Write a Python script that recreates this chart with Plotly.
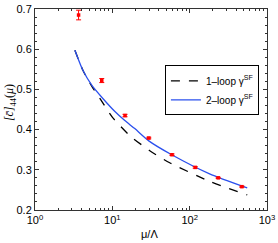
import plotly.graph_objects as go

# data points (lattice)
pts_x = [3.66, 7.3, 14.6, 29.6, 59.1, 118, 234, 473]
pts_y = [0.685, 0.522, 0.435, 0.379, 0.3375, 0.306, 0.28, 0.258]
pts_err = [0.012, 0.005, 0.003, 0.002, 0.002, 0.002, 0.0015, 0.0015]

# 1-loop curve
one_x = [3.28, 4.16, 5.44, 6.9, 10.1, 16.8, 30.5, 55.2, 181, 555]
one_y = [0.5975, 0.5475, 0.5075, 0.4775, 0.43, 0.385, 0.3475, 0.3175, 0.2713, 0.2375]

# 2-loop curve
two_x = [3.28, 4.16, 5.44, 7.54, 10.8, 14.5, 19.5, 29.6, 58.6, 181, 555]
two_y = [0.5975, 0.5475, 0.51, 0.4775, 0.445, 0.4225, 0.4025, 0.372, 0.3375, 0.29, 0.255]

x_tickvals = [1, 10, 100, 1000]
x_ticktext = ["10<sup>0</sup>", "10<sup>1</sup>", "10<sup>2</sup>", "10<sup>3</sup>"]
y_tickvals = [0.2, 0.3, 0.4, 0.5, 0.6, 0.7]
y_ticktext = ["0.2", "0.3", "0.4", "0.5", "0.6", "0.7"]

FONT = "Liberation Sans, Arial, sans-serif"

fig = go.Figure()
fig.add_trace(go.Scatter(
    x=one_x, y=one_y, mode="lines",
    line=dict(color="black", width=1.3, dash="dash", shape="spline", smoothing=0.6),
    name="1–loop γ<sup>SF</sup>"))
fig.add_trace(go.Scatter(
    x=two_x, y=two_y, mode="lines",
    line=dict(color="#2b50ee", width=1.3, shape="spline", smoothing=0.6),
    name="2–loop γ<sup>SF</sup>"))
fig.add_trace(go.Scatter(
    x=pts_x, y=pts_y, mode="markers",
    marker=dict(color="red", size=3.5, symbol="square"),
    error_y=dict(type="data", array=pts_err, color="red", thickness=1, width=2.5),
    showlegend=False))

axis_common = dict(showline=True, linecolor="#333333", linewidth=1, mirror="ticks",
                   ticks="inside", ticklen=4, tickcolor="#333333", showgrid=False, zeroline=False,
                   automargin=False,
                   tickfont=dict(family=FONT, size=11, color="black"))

fig.update_xaxes(type="log", range=[0, 3], tickvals=x_tickvals, ticktext=x_ticktext,
                 minor=dict(ticks="inside", ticklen=2, tickcolor="#333333", dtick="D1"),
                 **axis_common)
fig.update_yaxes(range=[0.2, 0.7], tickvals=y_tickvals, ticktext=y_ticktext,
                 minor=dict(ticks="inside", ticklen=2, tickcolor="#333333", dtick=0.02),
                 **axis_common)

fig.add_annotation(x=-0.105, y=0.535, xref="paper", yref="paper", textangle=-90,
                   xanchor="center", yanchor="middle",
                   text="<i>[c̄]</i><sub>44</sub>(<i>μ</i>)", showarrow=False,
                   font=dict(family="Liberation Serif, serif", size=12, color="black"))
fig.add_annotation(x=0.495, y=-0.12, xref="paper", yref="paper",
                   xanchor="center", yanchor="middle",
                   text="μ/Λ", showarrow=False,
                   font=dict(family=FONT, size=11, color="black"))

fig.update_layout(
    width=278, height=243,
    margin=dict(l=35, r=11, t=9, b=33, autoexpand=False),
    plot_bgcolor="white", paper_bgcolor="white",
    legend=dict(x=0.56, y=0.72, xanchor="left", yanchor="top",
                bordercolor="black", borderwidth=1, bgcolor="white",
                font=dict(family=FONT, size=10, color="black"),
                tracegroupgap=0, itemwidth=30),
)

fig.write_html("out.html", config={"displayModeBar": False},
               post_script="document.body.style.margin='0px';document.body.style.padding='0px';")
